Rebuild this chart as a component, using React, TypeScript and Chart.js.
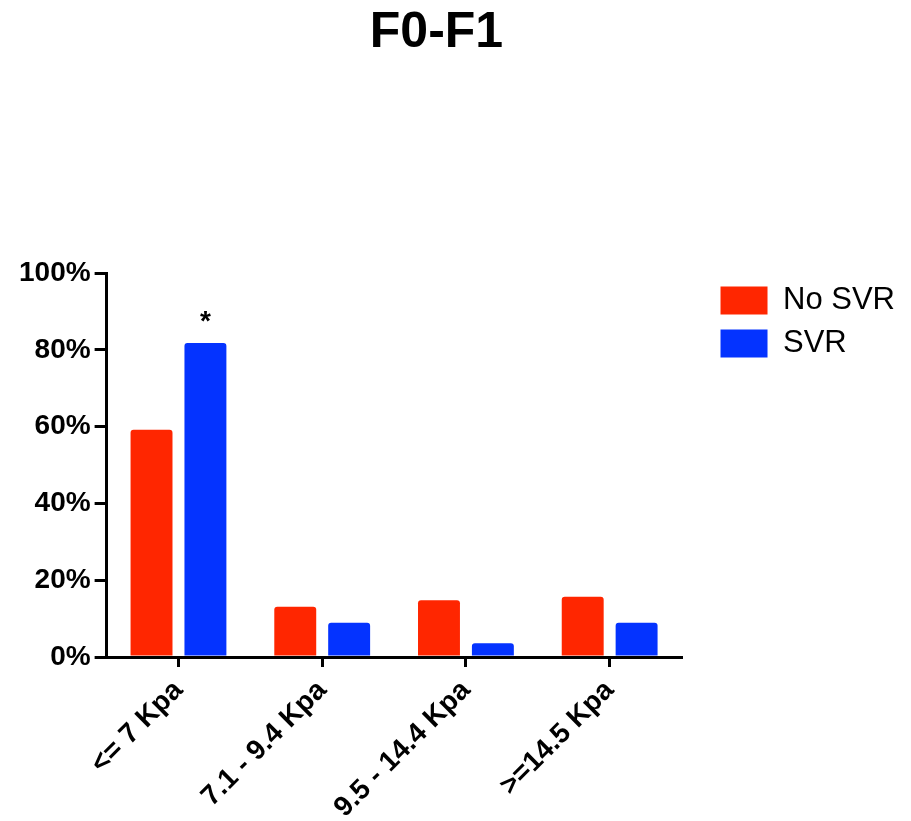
import React, { useEffect, useRef } from "react";
import { Chart, registerables } from "chart.js";

Chart.register(...registerables);

const chartTitle = "F0-F1";
const categories = ["<= 7 Kpa", "7.1 - 9.4 Kpa", "9.5 - 14.4 Kpa", ">=14.5 Kpa"];
const seriesNames = ["No SVR", "SVR"];
const noSvrValues = [59.2, 13.1, 14.8, 15.7];
const svrValues = [81.8, 8.9, 3.6, 8.9];
const svrAnnotations = ["*", "", "", ""];
const yMin = 0;
const yMax = 100;
const yStep = 20;

const FONT = "'Liberation Sans', Arial, Helvetica, sans-serif";

const titlePlugin = {
  id: "customTitle",
  afterDraw(chart: any) {
    const ctx = chart.ctx;
    ctx.save();
    ctx.font = `bold 50px ${FONT}`;
    ctx.fillStyle = "#000";
    ctx.textAlign = "center";
    ctx.textBaseline = "middle";
    ctx.fillText(chartTitle, chart.width / 2 - 19, 33);
    ctx.restore();
  },
};

const annotationPlugin = {
  id: "barAnnotations",
  afterDatasetsDraw(chart: any) {
    const ctx = chart.ctx;
    const meta = chart.getDatasetMeta(1);
    ctx.save();
    ctx.font = `bold 28px ${FONT}`;
    ctx.fillStyle = "#000";
    ctx.textAlign = "center";
    ctx.textBaseline = "alphabetic";
    meta.data.forEach((el: any, i: number) => {
      const t = svrAnnotations[i];
      if (t) ctx.fillText(t, el.x, el.y - 13);
    });
    ctx.restore();
  },
};

export default function App() {
  const ref = useRef<HTMLCanvasElement | null>(null);
  useEffect(() => {
    document.body.style.margin = "0";
    if (!ref.current) return;
    const chart = new Chart(ref.current, {
      type: "bar",
      data: {
        labels: categories,
        datasets: [
          {
            label: seriesNames[0],
            data: noSvrValues,
            backgroundColor: "#FF2600",
            borderRadius: { topLeft: 3, topRight: 3, bottomLeft: 0, bottomRight: 0 },
            borderSkipped: "bottom",
          },
          {
            label: seriesNames[1],
            data: svrValues,
            backgroundColor: "#0433FF",
            borderRadius: { topLeft: 3, topRight: 3, bottomLeft: 0, bottomRight: 0 },
            borderSkipped: "bottom",
          },
        ],
      },
      options: {
        animation: false,
        responsive: true,
        maintainAspectRatio: false,
        layout: { padding: { top: 273, left: 15, right: 6, bottom: 0 } },
        datasets: { bar: { categoryPercentage: 0.75, barPercentage: 0.778 } },
        plugins: {
          title: { display: false },
          tooltip: { enabled: false },
          legend: {
            position: "right",
            align: "start",
            maxWidth: 320,
            labels: {
              boxWidth: 47,
              boxHeight: 28,
              padding: 12,
              color: "#000",
              font: { family: FONT, size: 31, weight: "normal" },
            },
          },
        },
        scales: {
          x: {
            offset: true,
            grid: {
              offset: false,
              drawOnChartArea: false,
              drawTicks: true,
              tickLength: 10,
              color: "#000",
              lineWidth: 3,
            },
            border: { display: true, color: "#000", width: 3 },
            ticks: {
              color: "#000",
              minRotation: 45,
              maxRotation: 45,
              padding: 7,
              font: { family: FONT, size: 28, weight: "bold" },
            },
            afterFit: (s: any) => {
              s.height = 164;
            },
          },
          y: {
            min: yMin,
            max: yMax,
            grid: {
              drawOnChartArea: false,
              drawTicks: true,
              tickLength: 12,
              color: "#000",
              lineWidth: 3,
            },
            border: { display: true, color: "#000", width: 3 },
            ticks: {
              stepSize: yStep,
              color: "#000",
              padding: 4,
              font: { family: FONT, size: 28, weight: "bold" },
              callback: (v: any) => `${v}%`,
            },
          },
          spacer: {
            type: "linear",
            position: "right",
            display: true,
            grid: { display: false, drawTicks: false },
            border: { display: false },
            ticks: { display: false },
            afterFit: (s: any) => {
              s.width = 27;
            },
          },
        },
      },
      plugins: [titlePlugin, annotationPlugin],
    });
    return () => chart.destroy();
  }, []);
  return (
    <div style={{ position: "absolute", left: 0, top: 0, width: 911, height: 821 }}>
      <canvas ref={ref} />
    </div>
  );
}
